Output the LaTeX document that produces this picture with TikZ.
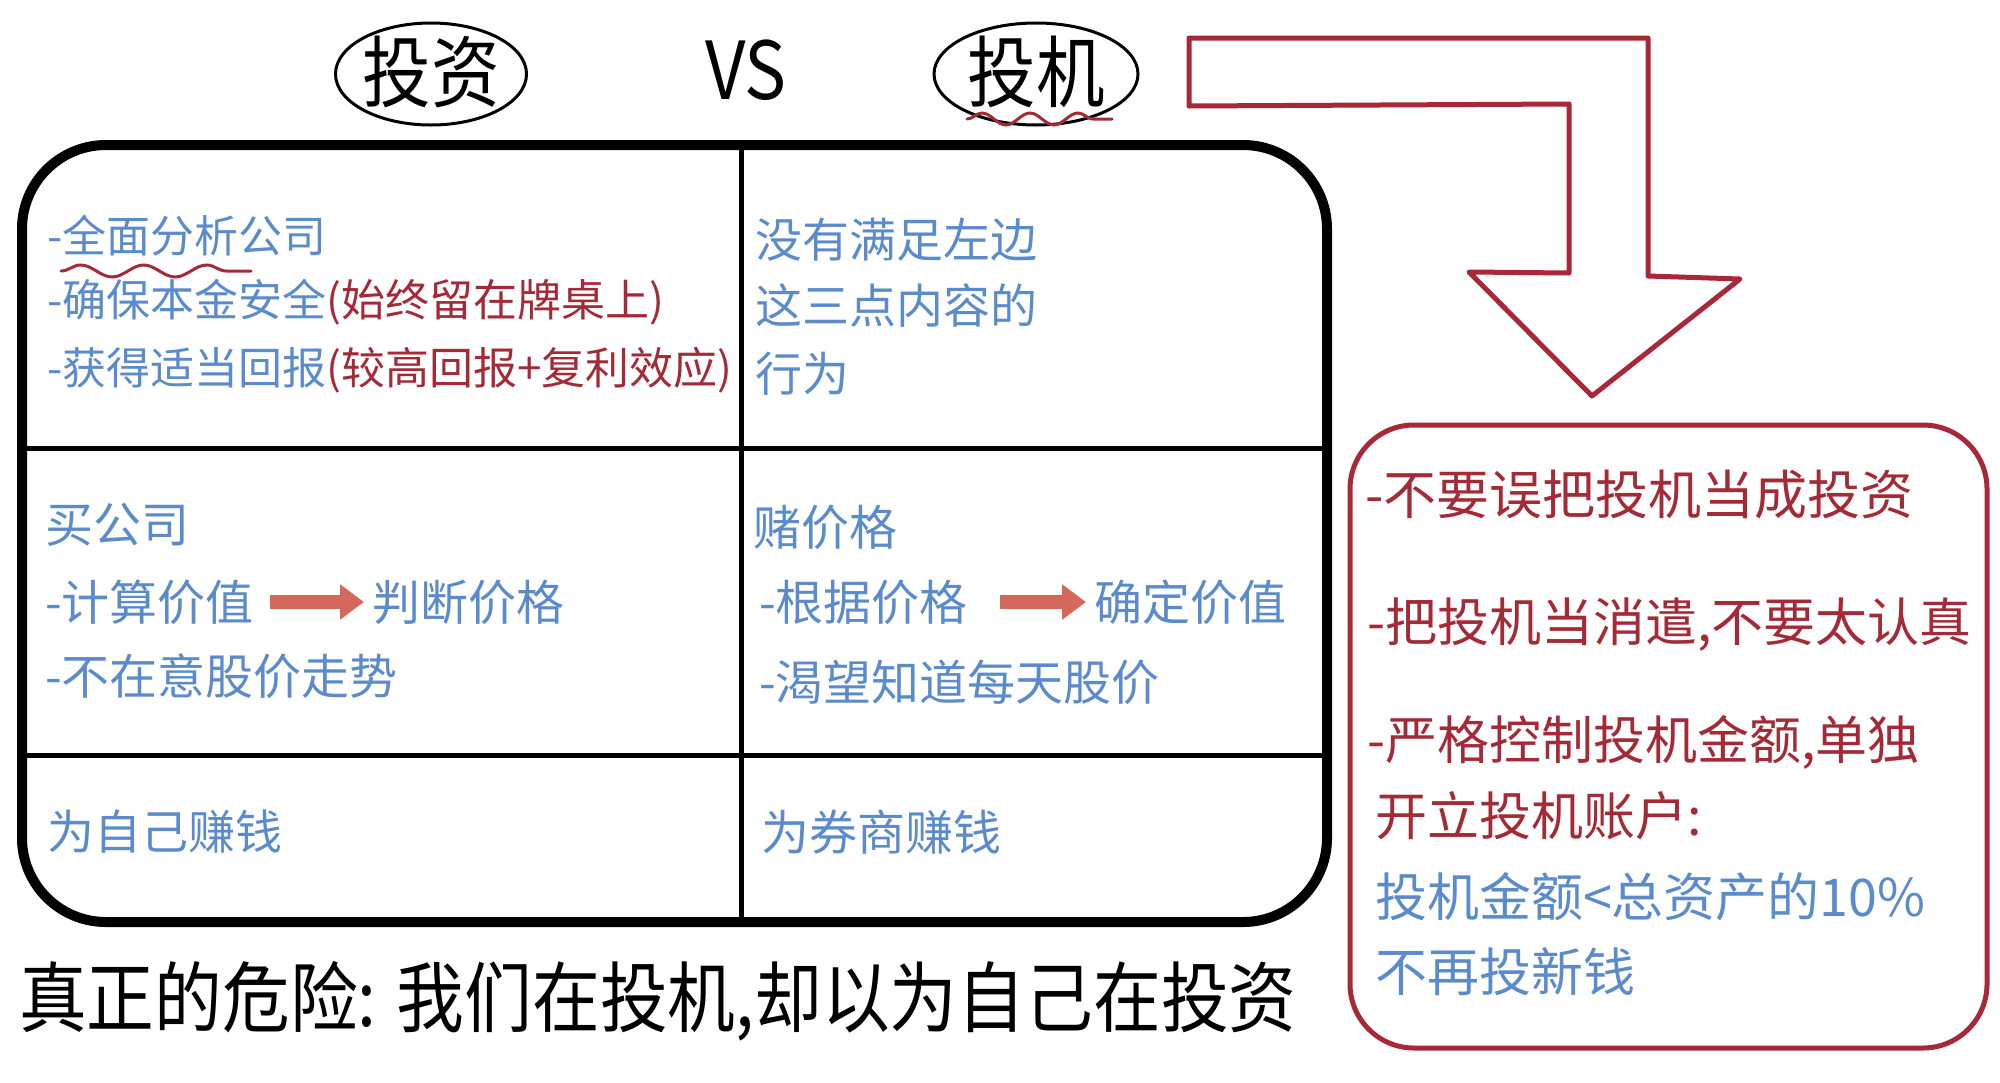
\documentclass[tikz,border=0pt]{standalone}
\usepackage{fontspec}
\setmainfont{Noto Sans CJK SC}
\newfontfamily\cjk{Noto Sans CJK SC}
\newfontfamily\cjkn[FakeStretch=0.88]{Noto Sans CJK SC}
\usetikzlibrary{shapes.geometric,arrows.meta,decorations.pathmorphing}
\definecolor{tblue}{HTML}{5B8BCB}
\definecolor{tred}{HTML}{A32A36}
\definecolor{ared}{HTML}{A8283A}
\definecolor{salmon}{HTML}{D4695B}
\begin{document}
\begin{tikzpicture}[x=0.5pt,y=-0.5pt,
  base/.style={anchor=west,inner sep=0pt,outer sep=0pt},
  tltxt/.style={base,text=tblue,font=\cjk\fontsize{22pt}{27pt}\selectfont},
  trtxt/.style={base,text=tblue,font=\cjk\fontsize{23.5pt}{28pt}\selectfont},
  midtxt/.style={base,text=tblue,font=\cjk\fontsize{24pt}{29pt}\selectfont},
  redtxt/.style={base,text=tred,font=\cjk\fontsize{26pt}{31pt}\selectfont},
  bluebig/.style={base,text=tblue,font=\cjk\fontsize{26pt}{31pt}\selectfont},
  oval/.style={ellipse,draw,line width=1.5pt,minimum width=95.5pt,minimum height=51pt,inner sep=0pt},
  ovaltxt/.style={inner sep=0pt,font=\cjkn\fontsize{39pt}{40pt}\selectfont},
  fatarrow/.style={salmon,line width=7pt,-{Triangle[width=17pt,length=12pt]}},
  wavy/.style={tred,line width=1.5pt,decorate,line cap=round},
]
\useasboundingbox (0,0) rectangle (2000,1082);

% title row
\node[oval] (ovInv) at (431,74) {};
\node[ovaltxt] (tInv) at (431,72) {投资};
\node[ovaltxt,font=\cjkn\fontsize{40pt}{40pt}\selectfont] (vs) at (746,70) {VS};
\node[oval,minimum width=102pt] (ovSpec) at (1036,74) {};
\node[ovaltxt] (tSpec) at (1036,72) {投机};
\draw[wavy,decoration={snake,segment length=24pt,amplitude=3pt}] (967,119) -- (1112,119);

% main table
\draw[line width=5pt,rounded corners=42pt] (22,145) rectangle (1327,922);
\draw[line width=2.5pt] (741,145) -- (741,922);
\draw[line width=2.5pt] (22,448) -- (1327,448);
\draw[line width=2.5pt] (22,755) -- (1327,755);

% top-left cell
\node[tltxt] (tl1) at (47,236) {-全面分析公司};
\node[tltxt] (tl2) at (47,302) {-确保本金安全{\color{tred}(始终留在牌桌上)}};
\node[tltxt] (tl3) at (47,370) {-获得适当回报{\color{tred}(较高回报+复利效应)}};
\draw[wavy,decoration={snake,segment length=31.5pt,amplitude=3pt}] (61,271) -- (251,271);

% top-right cell
\node[trtxt] (tr1) at (755,240) {没有满足左边};
\node[trtxt] (tr2) at (755,306) {这三点内容的};
\node[trtxt] (tr3) at (755,374) {行为};

% middle-left cell
\node[midtxt] (ml1) at (45,525) {买公司};
\node[midtxt] (ml2) at (45,602) {-计算价值};
\node[midtxt] (ml3) at (372,602) {判断价格};
\node[midtxt] (ml4) at (45,676) {-不在意股价走势};
\draw[fatarrow,shorten <=8pt,shorten >=4pt] (ml2.east) -- (ml3.west);

% middle-right cell
\node[midtxt] (mr1) at (753,527) {赌价格};
\node[midtxt] (mr2) at (759,602) {-根据价格};
\node[midtxt] (mr3) at (1094,602) {确定价值};
\node[midtxt] (mr4) at (759,682) {-渴望知道每天股价};
\draw[fatarrow,shorten <=16pt,shorten >=4pt] (mr2.east) -- (mr3.west);

% bottom cells
\node[midtxt,font=\cjk\fontsize{23.5pt}{28pt}\selectfont] (bl) at (47,832) {为自己赚钱};
\node[midtxt] (br) at (761,832) {为券商赚钱};

% conclusion line
\node[base,font=\cjkn\fontsize{38.5pt}{40pt}\selectfont] (danger) at (19,1001) {真正的危险: 我们在投机,却以为自己在投资};

% bent arrow
\draw[ared,line width=2.5pt,line join=round] (1189,38) -- (1648,38) -- (1648,276) -- (1740,279) -- (1592,396) -- (1469,272) -- (1569,273) -- (1569,104) -- (1189,106) -- cycle;

% red advice box
\draw[ared,line width=2.5pt,rounded corners=32pt] (1350,425) rectangle (1987,1048);
\node[redtxt,font=\cjk\fontsize{26.5pt}{31pt}\selectfont] (rb1) at (1365,495) {-不要误把投机当成投资};
\node[redtxt] (rb2) at (1367,625) {-把投机当消遣,不要太认真};
\node[redtxt] (rb3) at (1367,742) {-严格控制投机金额,单独};
\node[redtxt] (rb4) at (1375,816) {开立投机账户:};
\node[bluebig] (rb5) at (1375,897) {投机金额<总资产的10\%};
\node[bluebig] (rb6) at (1375,972) {不再投新钱};
\end{tikzpicture}
\end{document}
